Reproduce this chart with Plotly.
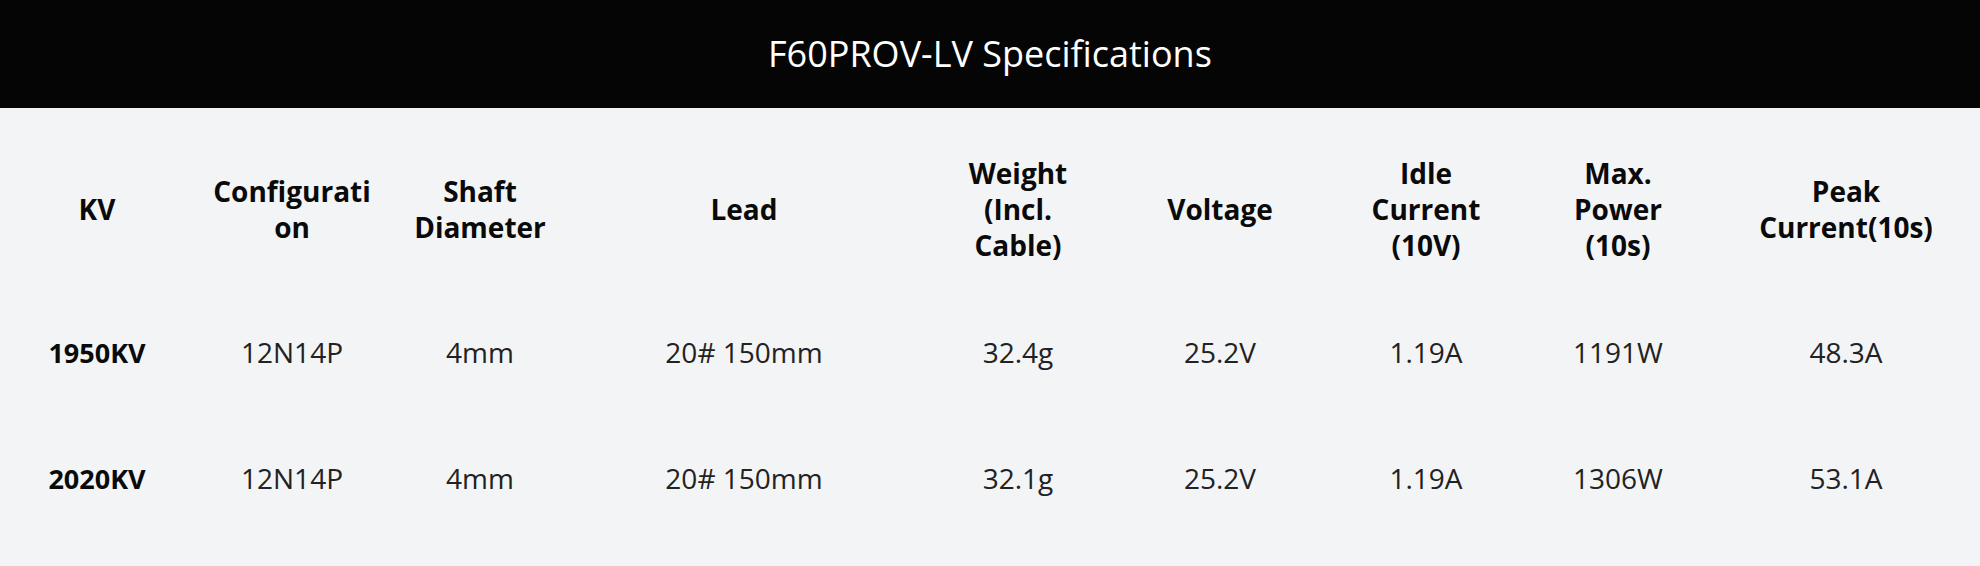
import plotly.graph_objects as go

title = "F60PROV-LV Specifications"
headers = ["KV", "Configurati<br>on", "Shaft<br>Diameter", "Lead", "Weight<br>(Incl.<br>Cable)",
           "Voltage", "Idle<br>Current<br>(10V)", "Max.<br>Power<br>(10s)", "Peak<br>Current(10s)"]
kv = ["1950KV", "2020KV"]
config = ["12N14P", "12N14P"]
shaft = ["4mm", "4mm"]
lead = ["20# 150mm", "20# 150mm"]
weight = ["32.4g", "32.1g"]
voltage = ["25.2V", "25.2V"]
idle = ["1.19A", "1.19A"]
power = ["1191W", "1306W"]
peak = ["48.3A", "53.1A"]

col_x = [97, 292, 480, 744, 1018, 1220, 1426, 1618, 1846]
header_y = 213
row_y = [356, 482]

fig = go.Figure()
fig.add_trace(go.Scatter(x=col_x, y=[header_y] * len(headers), text=["<b>%s</b>" % h for h in headers],
                         mode="text", textfont=dict(family="Open Sans", size=28, color="#0a0a0a"),
                         hoverinfo="skip"))
cols = [config, shaft, lead, weight, voltage, idle, power, peak]
for i, y in enumerate(row_y):
    fig.add_trace(go.Scatter(x=[col_x[0]], y=[y], text=["<b>%s</b>" % kv[i]], mode="text",
                             textfont=dict(family="Open Sans", size=27, color="#0a0a0a"), hoverinfo="skip"))
    fig.add_trace(go.Scatter(x=col_x[1:], y=[y] * len(cols), text=[c[i] for c in cols], mode="text",
                             textfont=dict(family="Open Sans", size=28, color="#222"), hoverinfo="skip"))

fig.add_shape(type="rect", xref="paper", yref="y", x0=0, x1=1, y0=0, y1=108,
              fillcolor="#050505", line_width=0, layer="below")
fig.add_annotation(text=title, xref="paper", x=0.5, yref="y", y=53, showarrow=False,
                   font=dict(family="Open Sans", size=36, color="white"))

fig.update_layout(width=1980, height=566, margin=dict(l=0, r=0, t=0, b=0),
                  paper_bgcolor="#f3f4f6", plot_bgcolor="#f3f4f6", showlegend=False,
                  xaxis=dict(range=[0, 1980], visible=False, fixedrange=True),
                  yaxis=dict(range=[566, 0], visible=False, fixedrange=True))
fig.write_html("out.html", config={"displayModeBar": False},
               post_script="document.body.style.margin='0';document.body.style.background='#f3f4f6';")
